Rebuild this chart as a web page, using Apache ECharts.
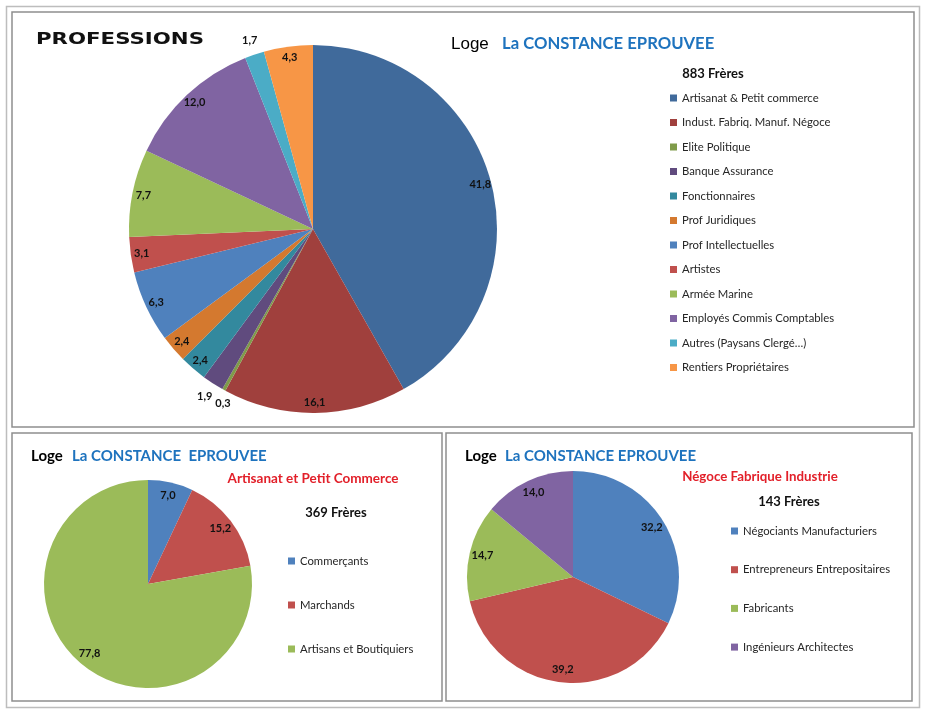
<!DOCTYPE html>
<html>
<head>
<meta charset="utf-8">
<script src="https://cdn.jsdelivr.net/npm/echarts@6/dist/echarts.min.js"></script>
<style>
html,body{margin:0;padding:0;background:#fff;}
#chart{width:930px;height:713px;}
</style>
</head>
<body>
<div id="chart"></div>
<script>
// ---------- DATA ----------
const mainCategories = ['Artisanat & Petit commerce','Indust. Fabriq. Manuf. Négoce','Elite Politique','Banque Assurance','Fonctionnaires','Prof Juridiques','Prof Intellectuelles','Artistes','Armée Marine','Employés Commis Comptables','Autres (Paysans Clergé…)','Rentiers Propriétaires'];
const mainValues = [41.8, 16.1, 0.3, 1.9, 2.4, 2.4, 6.3, 3.1, 7.7, 12.0, 1.7, 4.3];
const mainColors = ['#406A9B','#A0403D','#7F9B4A','#604B7E','#33899E','#D4792F','#4F81BD','#C0504D','#9BBB59','#8064A2','#4BACC6','#F79646'];

const artCategories = ['Commerçants','Marchands','Artisans et Boutiquiers'];
const artValues = [7.0, 15.2, 77.8];
const artColors = ['#4F81BD','#C0504D','#9BBB59'];

const negCategories = ['Négociants Manufacturiers','Entrepreneurs Entrepositaires','Fabricants','Ingénieurs Architectes'];
const negValues = [32.2, 39.2, 14.7, 14.0];
const negColors = ['#4F81BD','#C0504D','#9BBB59','#8064A2'];

// indices of main-pie slices whose labels sit just outside the pie
const mainOutsideIdx = [3, 10];
const mainTinyIdx = [2];

// ---------- HELPERS ----------
const fmt = v => v.toFixed(1).replace('.', ',');
const labelFont = {fontFamily:'Lato', fontWeight:'bold', fontSize:11, color:'#111'};

function solidPie(cats, vals, cols, center, r){
  return {
    type:'pie', center:center, radius:[0, r], startAngle:90, clockwise:true,
    label:{show:false}, labelLine:{show:false}, silent:true, animation:false,
    emphasis:{disabled:true},
    itemStyle:{borderWidth:0},
    data: cats.map((n,i)=>({name:n, value:vals[i], itemStyle:{color:cols[i]}}))
  };
}
function labelRing(cats, vals, center, r0, r1, showFn){
  return {
    type:'pie', center:center, radius:[r0, r1], startAngle:90, clockwise:true,
    silent:true, animation:false, avoidLabelOverlap:false,
    emphasis:{disabled:true},
    itemStyle:{color:'rgba(0,0,0,0)', borderWidth:0},
    labelLine:{show:false},
    data: cats.map((n,i)=>({
      name:n, value:vals[i],
      label:{show:showFn(i), position:'inside', formatter:fmt(vals[i]), ...labelFont}
    }))
  };
}
function outsideLabelRing(cats, vals, center, r, showFn){
  return {
    type:'pie', center:center, radius:[0, r], startAngle:90, clockwise:true,
    silent:true, animation:false, avoidLabelOverlap:false,
    emphasis:{disabled:true},
    itemStyle:{color:'rgba(0,0,0,0)', borderWidth:0},
    labelLine:{show:false, length:15, length2:0},
    data: cats.map((n,i)=>({
      name:n, value:vals[i],
      label:{show:showFn(i), position:'outside', alignTo:'none', distanceToLabelLine:-14, formatter:fmt(vals[i]), ...labelFont}
    }))
  };
}
function legendFor(cats, cols, left, top, gap){
  return {
    orient:'vertical', left:left, top:top, itemWidth:7, itemHeight:7, itemGap:gap,
    icon:'rect', selectedMode:false,
    textStyle:{fontFamily:'Lato', fontSize:11.3, color:'#262626', lineHeight:14},
    data: cats.map((n,i)=>({name:n, icon:'rect', itemStyle:{color:cols[i]}}))
  };
}
function txt(x, y, text, font, color, align, extra){
  return Object.assign({
    type:'text', x:x, y:y, silent:true,
    style:{text:text, font:font, fill:color, textAlign:align||'left', textVerticalAlign:'middle'}
  }, extra||{});
}

// ---------- CHART ----------
const chart = echarts.init(document.getElementById('chart'), null, {renderer:'canvas'});
const mainC = [313, 229], mainR = 184;
const artC = [148, 584], artR = 104;
const negC = [573, 577], negR = 106;

const option = {
  backgroundColor:'#ffffff',
  animation:false,
  legend:[
    legendFor(mainCategories, mainColors, 665, 86, 10.5),
    legendFor(artCategories, artColors, 283, 549, 30),
    legendFor(negCategories, negColors, 726, 519, 24.7)
  ],
  series:[
    solidPie(mainCategories, mainValues, mainColors, mainC, mainR),
    solidPie(artCategories, artValues, artColors, artC, artR),
    solidPie(negCategories, negValues, negColors, negC, negR),
    labelRing(mainCategories, mainValues, mainC, 156, mainR, i => mainOutsideIdx.indexOf(i) < 0 && mainTinyIdx.indexOf(i) < 0),
    labelRing(mainCategories, mainValues, mainC, mainR, 208, i => mainOutsideIdx.indexOf(i) >= 0),
    outsideLabelRing(mainCategories, mainValues, mainC, mainR, i => mainTinyIdx.indexOf(i) >= 0),
    labelRing(artCategories, artValues, artC, 72, artR, () => true),
    labelRing(negCategories, negValues, negC, 74, negR, () => true)
  ],
  graphic:[
    {type:'rect', silent:true, shape:{x:6.5, y:6.5, width:913, height:701}, style:{fill:'none', stroke:'#BDBDBD', lineWidth:1.5}},
    {type:'rect', silent:true, shape:{x:12, y:12, width:902, height:415}, style:{fill:'none', stroke:'#8E8E8E', lineWidth:1.5}},
    {type:'rect', silent:true, shape:{x:12, y:433, width:430, height:268}, style:{fill:'none', stroke:'#8E8E8E', lineWidth:1.5}},
    {type:'rect', silent:true, shape:{x:446, y:433, width:466, height:268}, style:{fill:'none', stroke:'#8E8E8E', lineWidth:1.5}},

    txt(36, 40, 'PROFESSIONS', '900 16px "DejaVu Sans"', '#111', 'left', {scaleX:1.33}),
    txt(451, 44, 'Loge', '17px "Liberation Sans"', '#000'),
    txt(502, 44, 'La CONSTANCE EPROUVEE', 'bold 17px Lato', '#1E73BE', 'left', {scaleX:0.98}),
    txt(713, 74, '883 Frères', 'bold 13px Lato', '#111', 'center'),

    txt(31, 456, 'Loge', 'bold 15px Lato', '#000'),
    txt(72, 456, 'La CONSTANCE  EPROUVEE', 'bold 15px Lato', '#1E73BE'),
    txt(313, 479, 'Artisanat et Petit Commerce', 'bold 13.5px Lato', '#E2202A', 'center'),
    txt(336, 513, '369 Frères', 'bold 13px Lato', '#111', 'center'),

    txt(465, 456, 'Loge', 'bold 15px Lato', '#000'),
    txt(505, 456, 'La CONSTANCE EPROUVEE', 'bold 15px Lato', '#1E73BE'),
    txt(760, 477, 'Négoce Fabrique Industrie', 'bold 13.3px Lato', '#E2202A', 'center'),
    txt(789, 502, '143 Frères', 'bold 13px Lato', '#111', 'center')
  ]
};
chart.setOption(option);
</script>
</body>
</html>
